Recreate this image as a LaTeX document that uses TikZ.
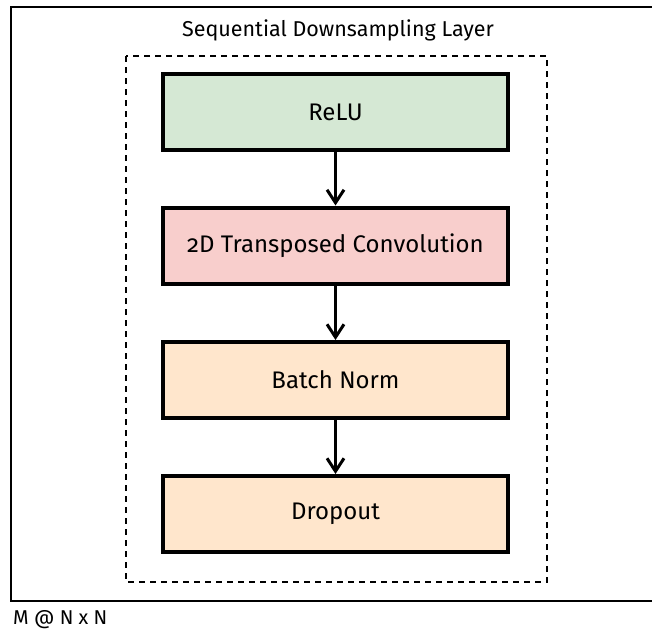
\documentclass[tikz,border=0pt]{standalone}
\usepackage{fontspec}
\setmainfont{Fira Sans}[Numbers=OldStyle]
\usetikzlibrary{arrows.meta}
\definecolor{reluFill}{HTML}{D5E8D4}
\definecolor{convFill}{HTML}{F8CECC}
\definecolor{normFill}{HTML}{FFE6CC}
\tikzset{
  layerbox/.style={draw=black, line width=4pt, minimum width=345pt, minimum height=76pt,
    inner sep=0pt, font=\fontsize{24}{26}\selectfont},
  flow/.style={line width=3pt, -{Straight Barb[length=13pt,width=17pt,line width=3pt]}},
  frame/.style={line width=2pt},
  group/.style={line width=2pt, dash pattern=on 6pt off 5pt}
}
\begin{document}
\begin{tikzpicture}[x=1pt, y=-1pt]
  \useasboundingbox (0,0) rectangle (652,635);
  % outer frame (right side runs past the page edge)
  \draw[frame] (652,7) -- (11,7) -- (11,601) -- (652,601);
  \node[font=\fontsize{21.5}{24}\selectfont] (title) at (338,30) {Sequential Downsampling Layer};
  % dashed group boundary
  \draw[group] (126,56) rectangle (547,582);
  % layers
  \node[layerbox, fill=reluFill] (relu) at (335.5,112) {ReLU};
  \node[layerbox, fill=convFill] (conv) at (335.5,245.5) {2D Transposed Convolution};
  \node[layerbox, fill=normFill] (norm) at (335.5,380) {Batch Norm};
  \node[layerbox, fill=normFill] (drop) at (335.5,514) {Dropout};
  \draw[flow] (relu) -- (conv);
  \draw[flow] (conv) -- (norm);
  \draw[flow] (norm) -- (drop);
  \node[anchor=west, inner sep=0pt, font=\fontsize{20}{22}\selectfont] (size) at (13,620) {M @ N x N};
\end{tikzpicture}
\end{document}
